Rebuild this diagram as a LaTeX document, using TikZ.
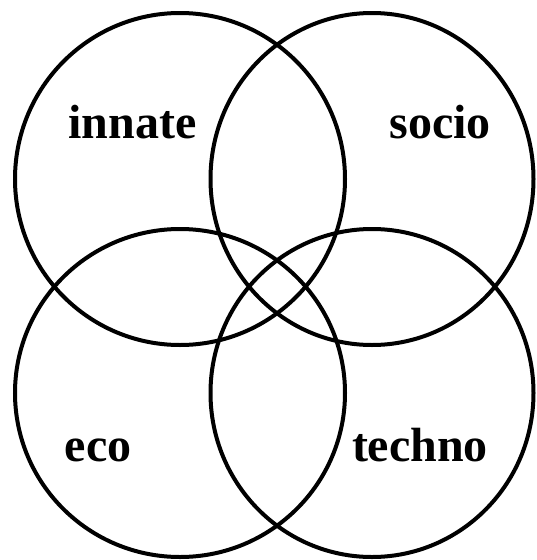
\documentclass[tikz,border=0pt]{standalone}
\usepackage{fontspec}
\setmainfont{Liberation Serif}
\begin{document}
\begin{tikzpicture}[x=1pt,y=-1pt,
  ring/.style={line width=4pt,draw=black},
  lbl/.style={font=\fontsize{48}{48}\selectfont\bfseries, anchor=base, inner sep=0pt}]
\useasboundingbox (0,0) rectangle (536,560);
\draw[ring] (180,179) ellipse [x radius=165, y radius=166];
\draw[ring] (372,179) ellipse [x radius=161.5, y radius=166];
\draw[ring] (180,393) ellipse [x radius=165, y radius=164];
\draw[ring] (372,393) ellipse [x radius=161.5, y radius=164];
\node[lbl] (innate) at (132.5,138) {innate};
\node[lbl] (socio) at (440,138) {socio};
\node[lbl] (eco) at (98,461) {eco};
\node[lbl] (techno) at (420,461) {techno};
\end{tikzpicture}
\end{document}
